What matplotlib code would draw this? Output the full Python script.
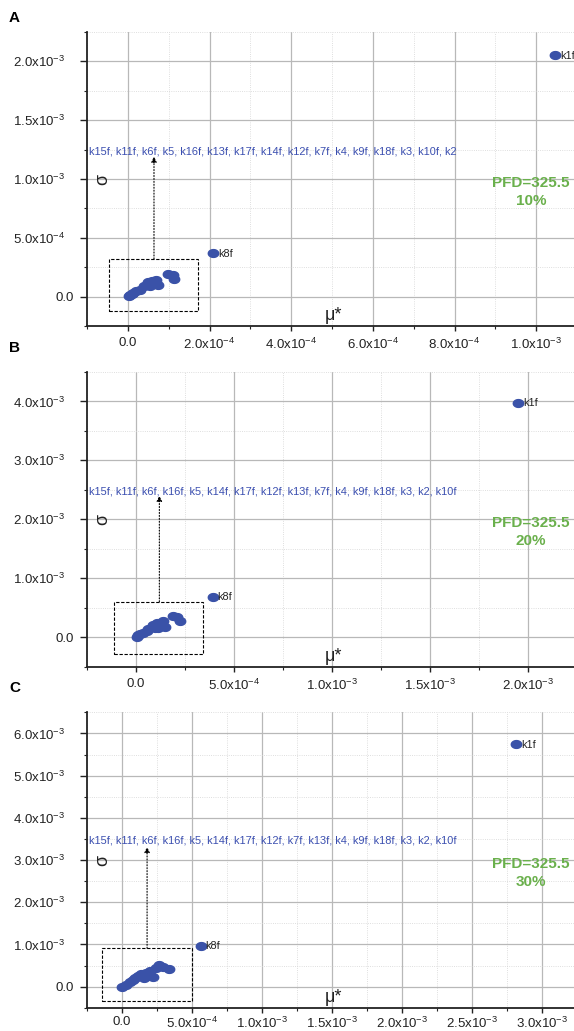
import numpy as np
import matplotlib
matplotlib.use('Agg')
import matplotlib.pyplot as plt
from matplotlib.path import Path
from matplotlib.patches import Rectangle
from matplotlib.transforms import blended_transform_factory, ScaledTranslation

plt.rcParams['font.family'] = ['Liberation Sans', 'DejaVu Sans']
plt.rcParams['mathtext.default'] = 'regular'

# ---- data (mu*, sigma) ----
# panel A, 10%
a_mu = [1.7e-6, 4.9e-6, 9.1e-6, 1.3e-5, 2.1e-5, 2.9e-5, 4.0e-5, 4.6e-5,
        5.0e-5, 5.4e-5, 5.8e-5, 7.0e-5, 7.4e-5, 9.9e-5, 1.11e-4, 1.13e-4,
        2.09e-4, 1.046e-3]
a_sigma = [4e-6, 1.7e-5, 2.3e-5, 3.1e-5, 4.5e-5, 5.9e-5, 8.7e-5, 1.02e-4,
           1.21e-4, 8.7e-5, 1.30e-4, 1.44e-4, 1.02e-4, 1.95e-4, 1.86e-4, 1.50e-4,
           3.7e-4, 2.055e-3]
# panel B, 20%
b_mu = [3.6e-6, 1.2e-5, 2.0e-5, 3.7e-5, 5.5e-5, 6.3e-5, 8.5e-5, 8.8e-5,
        9.7e-5, 1.06e-4, 1.14e-4, 1.36e-4, 1.48e-4, 1.91e-4, 2.08e-4, 2.25e-4,
        3.92e-4, 1.951e-3]
b_sigma = [5e-6, 3.4e-5, 5.1e-5, 7.3e-5, 1.07e-4, 1.31e-4, 1.87e-4, 2.04e-4,
           1.48e-4, 2.33e-4, 1.48e-4, 2.72e-4, 1.75e-4, 3.57e-4, 3.35e-4, 2.77e-4,
           6.9e-4, 3.98e-3]
# panel C, 30%
c_mu = [2.9e-6, 3.1e-5, 6.0e-5, 7.9e-5, 9.1e-5, 1.14e-4, 1.39e-4, 1.55e-4,
        1.74e-4, 1.86e-4, 1.98e-4, 2.22e-4, 2.46e-4, 2.65e-4, 2.93e-4, 3.36e-4,
        5.63e-4, 2.816e-3]
c_sigma = [0.0, 4.8e-5, 1.03e-4, 1.58e-4, 1.97e-4, 2.6e-4, 3.0e-4, 1.98e-4,
           3.17e-4, 2.6e-4, 3.8e-4, 2.38e-4, 4.43e-4, 5.15e-4, 4.75e-4, 4.1e-4,
           9.7e-4, 5.75e-3]

a_group = "k15f, k11f, k6f, k5, k16f, k13f, k17f, k14f, k12f, k7f, k4, k9f, k18f, k3, k10f, k2"
b_group = "k15f, k11f, k6f, k16f, k5, k14f, k17f, k12f, k13f, k7f, k4, k9f, k18f, k3, k2, k10f"
c_group = "k15f, k11f, k6f, k16f, k5, k14f, k17f, k12f, k7f, k13f, k4, k9f, k18f, k3, k2, k10f"

a_xticks = [0.0, 2e-4, 4e-4, 6e-4, 8e-4, 1e-3]
a_xlabels = ['0.0', '2.0x10$^{-4}$', '4.0x10$^{-4}$', '6.0x10$^{-4}$', '8.0x10$^{-4}$', '1.0x10$^{-3}$']
a_yticks = [0.0, 5e-4, 1e-3, 1.5e-3, 2e-3]
a_ylabels = ['0.0', '5.0x10$^{-4}$', '1.0x10$^{-3}$', '1.5x10$^{-3}$', '2.0x10$^{-3}$']

b_xticks = [0.0, 5e-4, 1e-3, 1.5e-3, 2e-3]
b_xlabels = ['0.0', '5.0x10$^{-4}$', '1.0x10$^{-3}$', '1.5x10$^{-3}$', '2.0x10$^{-3}$']
b_yticks = [0.0, 1e-3, 2e-3, 3e-3, 4e-3]
b_ylabels = ['0.0', '1.0x10$^{-3}$', '2.0x10$^{-3}$', '3.0x10$^{-3}$', '4.0x10$^{-3}$']

c_xticks = [0.0, 5e-4, 1e-3, 1.5e-3, 2e-3, 2.5e-3, 3e-3]
c_xlabels = ['0.0', '5.0x10$^{-4}$', '1.0x10$^{-3}$', '1.5x10$^{-3}$', '2.0x10$^{-3}$',
             '2.5x10$^{-3}$', '3.0x10$^{-3}$']
c_yticks = [0.0, 1e-3, 2e-3, 3e-3, 4e-3, 5e-3, 6e-3]
c_ylabels = ['0.0', '1.0x10$^{-3}$', '2.0x10$^{-3}$', '3.0x10$^{-3}$', '4.0x10$^{-3}$',
             '5.0x10$^{-3}$', '6.0x10$^{-3}$']

DOT = '#3a52a8'
GREEN = '#6ab04c'
INK = '#222222'

t = np.linspace(0, 2 * np.pi, 40)
ellipse = Path(np.column_stack([np.cos(t), 0.75 * np.sin(t)]), closed=True)

fig = plt.figure(figsize=(5.74, 10.31), dpi=100)


def draw_panel(ax, letter, letter_y, mu, sigma, group, xticks, xlabels, yticks, ylabels,
               xlim, ylim, box, arrow_x, arrow_tip, group_y, sigma_y, pct, xpad):
    ax.set_xlim(*xlim)
    ax.set_ylim(*ylim)
    ax.set_xticks(xticks, xlabels)
    ax.set_yticks(yticks, ylabels)
    dx = xticks[1] - xticks[0]
    dy = yticks[1] - yticks[0]
    ax.set_xticks([v + dx / 2 for v in [xlim[0] - dx / 2] + xticks], minor=True)
    ax.set_yticks([v + dy / 2 for v in [ylim[0] - dy / 2] + yticks], minor=True)
    ax.grid(which='major', color='#b8b8b8', lw=0.9, ls='-')
    ax.grid(which='minor', color='#d4d4d4', lw=0.6, ls=':')
    ax.set_axisbelow(True)
    for s in ['top', 'right']:
        ax.spines[s].set_visible(False)
    for s in ['left', 'bottom']:
        ax.spines[s].set_linewidth(1.3)
        ax.spines[s].set_color(INK)
    ax.tick_params(which='major', direction='out', width=1, labelsize=9.5, colors=INK)
    ax.tick_params(axis='y', which='major', length=5, pad=11)
    ax.tick_params(axis='x', which='major', length=3.5, pad=xpad)
    ax.tick_params(which='minor', direction='out', length=2.5, width=0.8, colors=INK)
    for lab in ax.get_yticklabels():
        if lab.get_text() == '0.0':
            lab.set_transform(lab.get_transform() + ScaledTranslation(6.5 / 72, 0, fig.dpi_scale_trans))

    ax.plot(mu, sigma, ls='none', marker=ellipse, ms=7.5, color=DOT, mec=DOT)
    ax.annotate('k8f', (mu[-2], sigma[-2]), xytext=(3.5, -0.5), textcoords='offset points',
                va='center', fontsize=7.8, color=INK)
    ax.annotate('k1f', (mu[-1], sigma[-1]), xytext=(3.5, -0.5), textcoords='offset points',
                va='center', fontsize=7.8, color=INK)

    ax.add_patch(Rectangle((box[0], box[2]), box[1] - box[0], box[3] - box[2],
                           fill=False, ls=(0, (3, 1.5)), lw=0.8, color='black'))
    ax.annotate('', xy=(arrow_x, arrow_tip), xytext=(arrow_x, box[3]),
                arrowprops=dict(arrowstyle='-|>', ls=':', lw=0.8, color='black',
                                mutation_scale=8, shrinkA=0, shrinkB=0))

    trans = blended_transform_factory(ax.transAxes, ax.transData)
    ax.text(0.004, group_y, group, transform=trans, fontsize=7.9, color='#3b4fb0',
            va='center', ha='left')
    ax.text(0.033, sigma_y, 'σ', transform=trans, fontsize=13, rotation=90,
            va='center', ha='center', color=INK)
    ax.text(0.502, 0.035, 'μ*', transform=ax.transAxes, fontsize=13,
            va='center', ha='center', color=INK)
    ax.text(0.906, 0.457, 'PFD=325.5\n' + pct, transform=ax.transAxes, fontsize=11,
            fontweight='bold', color=GREEN, ha='center', va='center', linespacing=1.35)
    fig.text(9 / 574, 1 - letter_y / 1031, letter, fontsize=11,
             fontweight='bold', va='center', ha='left')


axA = fig.add_axes([0.1516, 0.6838, 0.8537, 0.2852])
axB = fig.add_axes([0.1516, 0.3534, 0.8537, 0.2858])
axC = fig.add_axes([0.1516, 0.0225, 0.8537, 0.2866])

draw_panel(axA, 'A', 18, a_mu, a_sigma, a_group, a_xticks, a_xlabels, a_yticks, a_ylabels,
           (-1e-4, 1.1e-3), (-2.5e-4, 2.25e-3), (-4.7e-5, 1.71e-4, -1.21e-4, 3.2e-4),
           6.4e-5, 1.19e-3, 1.237e-3, 1.0e-3, '10%', 4.5)
draw_panel(axB, 'B', 348, b_mu, b_sigma, b_group, b_xticks, b_xlabels, b_yticks, b_ylabels,
           (-2.5e-4, 2.25e-3), (-5e-4, 4.5e-3), (-1.11e-4, 3.41e-4, -2.77e-4, 6.0e-4),
           1.19e-4, 2.4e-3, 2.47e-3, 2.0e-3, '20%', 4.5)
draw_panel(axC, 'C', 688, c_mu, c_sigma, c_group, c_xticks, c_xlabels, c_yticks, c_ylabels,
           (-2.5e-4, 3.25e-3), (-5e-4, 6.5e-3), (-1.43e-4, 5.0e-4, -3.3e-4, 9.1e-4),
           1.79e-4, 3.31e-3, 3.47e-3, 3.0e-3, '30%', 2.5)

fig.savefig('out.png', dpi=100)
